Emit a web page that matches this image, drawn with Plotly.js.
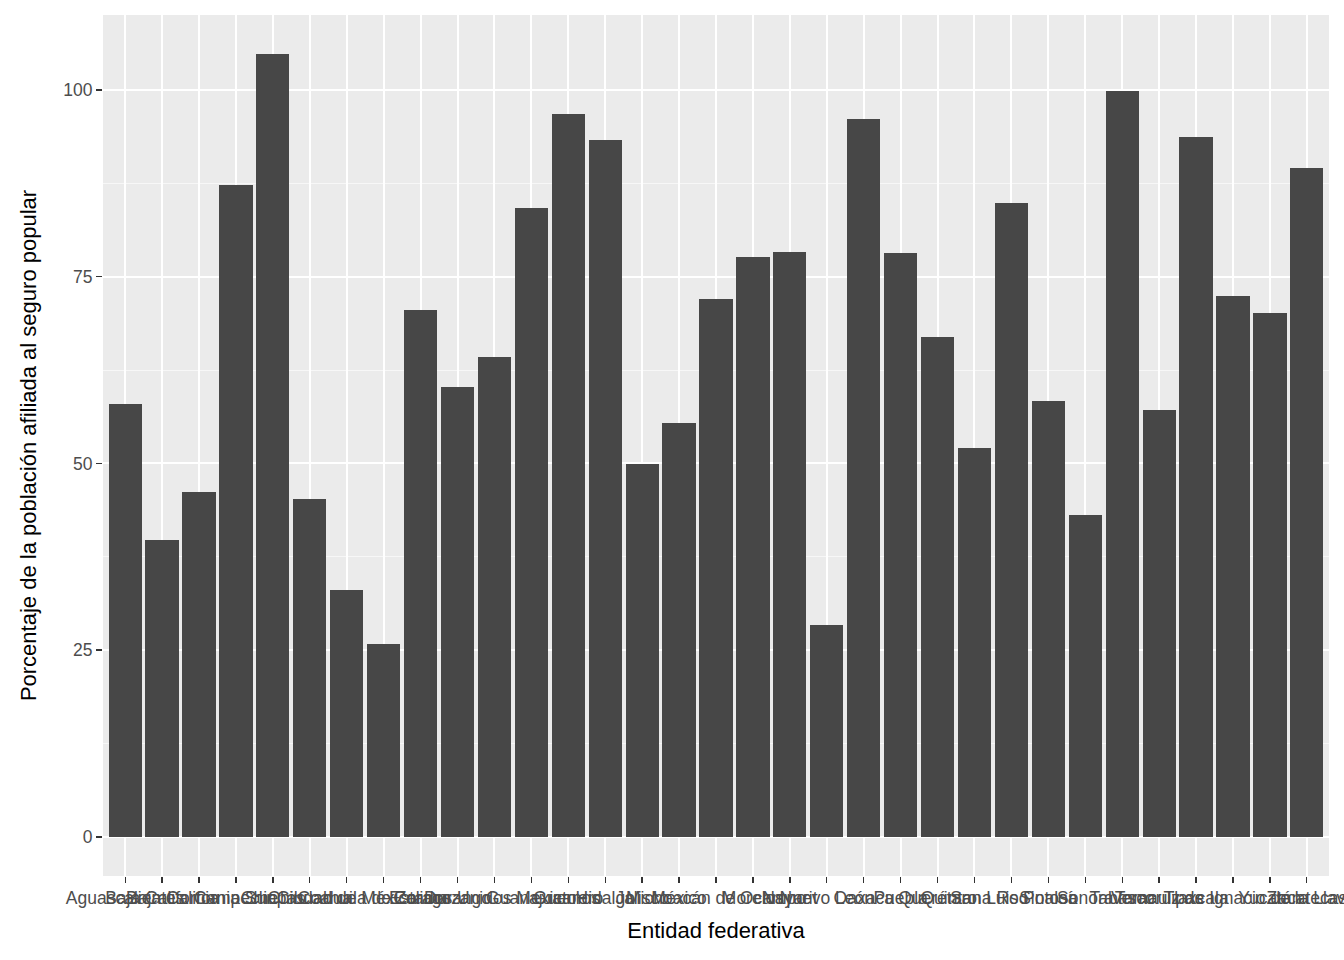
<!DOCTYPE html>
<html lang="es">
<head>
    <meta charset="UTF-8">
    <title>Seguro popular por entidad</title>
    <script src="https://cdn.plot.ly/plotly-3.0.1.min.js"></script>
    <style>
        body { margin: 0; }
        #plot { width: 1344px; height: 960px; }
    </style>
</head>
<body>
<div id="plot"></div>
<script>
    let entidades = ["Aguascalientes", "Baja California", "Baja California Sur", "Campeche", "Chiapas",
        "Chihuahua", "Ciudad de México", "Coahuila de Zaragoza", "Colima", "Durango",
        "Estados Unidos Mexicanos", "Guanajuato", "Guerrero", "Hidalgo", "Jalisco", "México",
        "Michoacán de Ocampo", "Morelos", "Nayarit", "Nuevo León", "Oaxaca", "Puebla",
        "Querétaro", "Quintana Roo", "San Luis Potosí", "Sinaloa", "Sonora", "Tabasco",
        "Tamaulipas", "Tlaxcala", "Veracruz de Ignacio de la Llave", "Yucatán", "Zacatecas"]
    let porcentaje = [58.0, 39.8, 46.2, 87.3, 104.8,
        45.2, 33.1, 25.8, 70.5, 60.2,
        64.3, 84.2, 96.8, 93.3, 49.9, 55.4,
        72.0, 77.6, 78.3, 28.4, 96.1, 78.2,
        66.9, 52.1, 84.9, 58.4, 43.1, 99.9,
        57.2, 93.7, 72.4, 70.1, 89.6]
    let yTicks = [0, 25, 50, 75, 100]

    let data = [{
        x: entidades,
        y: porcentaje,
        type: "bar",
        width: 0.9,
        marker: {color: "#474747"},
        hoverinfo: "x+y"
    }]

    let layout = {
        width: 1344,
        height: 960,
        margin: {l: 103, r: 15, t: 15, b: 84},
        paper_bgcolor: "#FFFFFF",
        plot_bgcolor: "#EBEBEB",
        font: {family: "Liberation Sans, Arial, sans-serif", color: "#4D4D4D", size: 17},
        showlegend: false,
        bargap: 0,
        xaxis: {
            type: "category",
            range: [-0.6, entidades.length - 0.4],
            tickangle: 0,
            ticks: "outside",
            ticklen: 6,
            tickwidth: 1.3,
            tickcolor: "#333333",
            showgrid: true,
            gridcolor: "#FFFFFF",
            gridwidth: 2,
            zeroline: false,
            showline: false,
            tickfont: {size: 17.5, color: "#4D4D4D"},
            title: {text: "Entidad federativa", font: {size: 22, color: "#000000"}, standoff: 15}
        },
        yaxis: {
            range: [-5.24, 110.04],
            tickvals: yTicks,
            ticktext: yTicks.map(String),
            ticks: "outside",
            ticklen: 6,
            tickwidth: 1.3,
            tickcolor: "#333333",
            showgrid: true,
            gridcolor: "#FFFFFF",
            gridwidth: 2,
            minor: {tick0: 12.5, dtick: 25, showgrid: true, gridcolor: "#F7F7F7", gridwidth: 1, ticks: ""},
            zeroline: false,
            showline: false,
            tickfont: {size: 17.5, color: "#4D4D4D"},
            title: {text: "Porcentaje de la población afiliada al seguro popular", font: {size: 22, color: "#000000"}, standoff: 20}
        }
    }

    Plotly.newPlot("plot", data, layout, {displayModeBar: false, staticPlot: true})
</script>
</body>
</html>
